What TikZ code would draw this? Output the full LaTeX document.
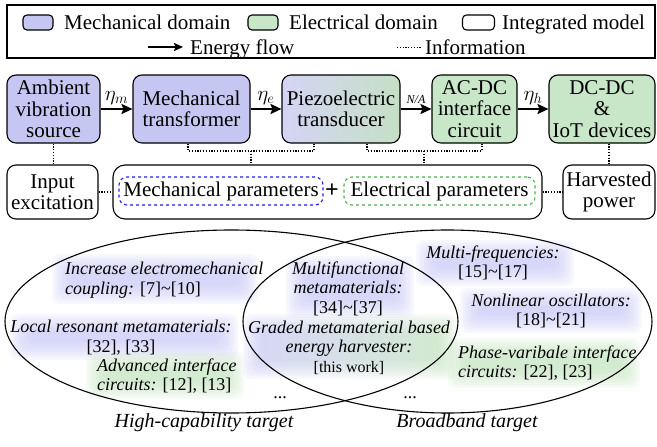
\RequirePackage{fix-cm}
\documentclass[tikz,border=0pt]{standalone}
\usepackage{fontspec}
\setmainfont{Liberation Serif}
\usetikzlibrary{arrows.meta,calc,shapes.geometric}
\definecolor{mech}{RGB}{198,198,242}
\definecolor{elec}{RGB}{200,230,200}
\definecolor{hlp}{RGB}{196,196,246}
\definecolor{hlg}{RGB}{190,225,185}
\definecolor{pblue}{RGB}{30,30,235}
\definecolor{pgreen}{RGB}{70,180,70}
\newcommand\softhl[5]{\foreach \k in {0,...,7}{\fill[#1, opacity=0.13, rounded corners=8pt] ({#2+\k*2.6},{#3+\k*2.6}) rectangle ({#4-\k*2.6},{#5-\k*2.6});}}
\begin{document}
\begin{tikzpicture}[x=1pt,y=-1pt,
  box/.style={draw, line width=1.1pt, rounded corners=9pt, align=center,
    font=\fontsize{21}{21.5}\selectfont, inner sep=0pt},
  swatch/.style={draw, line width=1.1pt, rounded corners=4pt, minimum width=30pt, minimum height=15pt, inner sep=0pt},
  legtext/.style={font=\fontsize{21}{22}\selectfont, inner sep=0pt, anchor=base west},
  flow/.style={line width=2.8pt, -{Stealth[length=11pt,width=10pt,inset=2pt]}},
  legflow/.style={line width=2pt, -{Stealth[length=9pt,width=8pt,inset=1.5pt]}},
  info/.style={line width=1.2pt, dash pattern=on 1.2pt off 1.6pt},
  param/.style={dashed, line width=1.1pt, rounded corners=8pt, minimum height=28pt, inner sep=0pt,
    font=\fontsize{21}{22}\selectfont},
  itx/.style={font=\fontsize{18}{19.5}\selectfont, inner sep=0pt},
  eta/.style={font=\fontsize{21}{21}\selectfont, inner sep=3pt, above},
  vset/.style={draw, line width=1.1pt, ellipse, inner sep=0pt}
]
\useasboundingbox (0,0) rectangle (657,447);

% ---------- legend ----------
\draw[line width=1.1pt] (7,5) rectangle (655,58);
\node[swatch, fill=mech] (s1) at (38,22.5) {};
\node[legtext] (l1) at (64,29.5) {Mechanical domain};
\node[swatch, fill=elec] (s2) at (263,22.5) {};
\node[legtext] (l2) at (289,29.5) {Electrical domain};
\node[swatch, minimum width=32pt] (s3) at (478.5,22.5) {};
\node[legtext] (l3) at (502,29.5) {Integrated model};
\coordinate (ef0) at (148,47);
\coordinate (ef1) at (183,47);
\draw[legflow] (ef0) -- (ef1);
\node[legtext] (l4) at (190,54) {Energy flow};
\coordinate (if0) at (397,47);
\coordinate (if1) at (421,47);
\draw[info, line width=1pt] (if0) -- (if1);
\node[legtext] (l5) at (425,54) {Information};

% ---------- main chain ----------
\node[box, fill=mech, minimum width=93pt, minimum height=68pt] (A) at (53.5,109) {Ambient\\vibration\\source};
\node[box, fill=mech, minimum width=117pt, minimum height=68pt] (B) at (191.5,109) {Mechanical\\transformer};
\node[box, left color=mech!75!white, right color=elec!92!gray!95!white, minimum width=118pt, minimum height=68pt] (C) at (341,109) {Piezoelectric\\transducer};
\node[box, fill=elec, minimum width=85pt, minimum height=68pt] (D) at (474.5,109) {AC-DC\\interface\\circuit};
\node[box, fill=elec, minimum width=106pt, minimum height=68pt] (E) at (602,109) {DC-DC\\\&\\IoT devices};

\draw[flow] (A) -- (B) node[midway, eta] {$\eta_m$};
\draw[flow] (B) -- (C) node[midway, eta] {$\eta_e$};
\draw[flow] (C) -- (D) node[midway, above, inner sep=4pt, font=\fontsize{12}{12}\selectfont\itshape] {N/A};
\draw[flow] (D) -- (E) node[midway, eta] {$\eta_h$};

% ---------- second row ----------
\node[box, minimum width=91pt, minimum height=54pt] (In) at (52.5,192) {Input\\excitation};
\node[box, rounded corners=12pt, minimum width=429pt, minimum height=54pt] (Big) at (327.5,192) {};
\node[box, minimum width=92pt, minimum height=54pt] (H) at (609,192) {Harvested\\power};
\node[param, draw=pblue, minimum width=204pt] (MP) at (221,191) {Mechanical parameters};
\node[param, draw=pgreen, minimum width=191pt] (EP) at (439.5,191) {Electrical parameters};
\node[inner sep=0pt, font=\fontsize{24}{24}\selectfont\bfseries] (plus) at (332,191) {+};

% ---------- information links ----------
\coordinate (m1) at (251,151);
\coordinate (m2) at (424,151);
\draw[info] (A.south) -- (A.south |- In.north);
\draw[info] ([xshift=-3.5pt]B.south) |- (m1) -| ([xshift=-27pt]C.south);
\draw[info] (m1) -- (m1 |- Big.north);
\draw[info] ([xshift=26pt]C.south) |- (m2) -| ([xshift=7.5pt]D.south);
\draw[info] (m2) -- (m2 |- Big.north);
\draw[info] (H.north |- E.south) -- (H.north);
\draw[info] (In.east) -- (Big.west);
\draw[info] (Big.east) -- (H.west);

% ---------- highlights ----------
\softhl{hlp}{52}{254}{258}{304}
\softhl{hlp}{10}{314}{238}{360}
\softhl{hlg}{86}{352}{244}{399}
\softhl{hlp}{286}{256}{414}{318}
\foreach \k in {0,...,7}{\shade[left color=hlp, right color=hlg, opacity=0.13, rounded corners=8pt] ({243+\k*2.6},{314+\k*2.6}) rectangle ({457-\k*2.6},{379-\k*2.6});}
\softhl{hlp}{416}{240}{574}{286}
\softhl{hlp}{460}{288}{642}{333}
\softhl{hlg}{448}{338}{640}{388}

% ---------- sets ----------
\node[vset, minimum width=453pt, minimum height=183pt] (L) at (231.5,321.5) {};
\node[vset, minimum width=409pt, minimum height=183pt] (R) at (447.5,321.5) {};

\node[itx, align=left, anchor=west] (t1) at (65,280) {\itshape Increase electromechanical\\{\itshape coupling:} [7]\textasciitilde[10]};
\node[itx, align=center] (t2) at (121,337.5) {\itshape Local resonant metamaterials:\\{}[32], [33]};
\node[itx, align=left, anchor=west] (t3) at (97,376) {\itshape Advanced interface\\{\itshape circuits:} [12], [13]};
\node[itx, align=center] (t4) at (348,288.5) {{\itshape Multifunctional}\\{\itshape metamaterials:}\\{}[34]\textasciitilde[37]};
\node[itx, align=center] (t5) at (349,347.5) {{\itshape Graded metamaterial based}\\{\itshape energy harvester:}\\{\fontsize{16}{16}\selectfont[this work]}};
\node[itx, align=center] (t6) at (493,263) {{\itshape Multi-frequencies:}\\{}[15]\textasciitilde[17]};
\node[itx, align=center] (t7) at (551,311) {{\itshape Nonlinear oscillators:}\\{}[18]\textasciitilde[21]};
\node[itx, align=left, anchor=west] (t8) at (458,363) {{\itshape Phase-varibale interface}\\{\itshape circuits:} [22], [23]};
\node[itx] (d1) at (280,398) {...};
\node[itx] (d2) at (410,398) {...};

\node[font=\fontsize{20}{20}\selectfont\itshape, inner sep=0pt] (lt) at (204,423) {High-capability target};
\node[font=\fontsize{20}{20}\selectfont\itshape, inner sep=0pt] (rt) at (467,423) {Broadband target};
\end{tikzpicture}
\end{document}
